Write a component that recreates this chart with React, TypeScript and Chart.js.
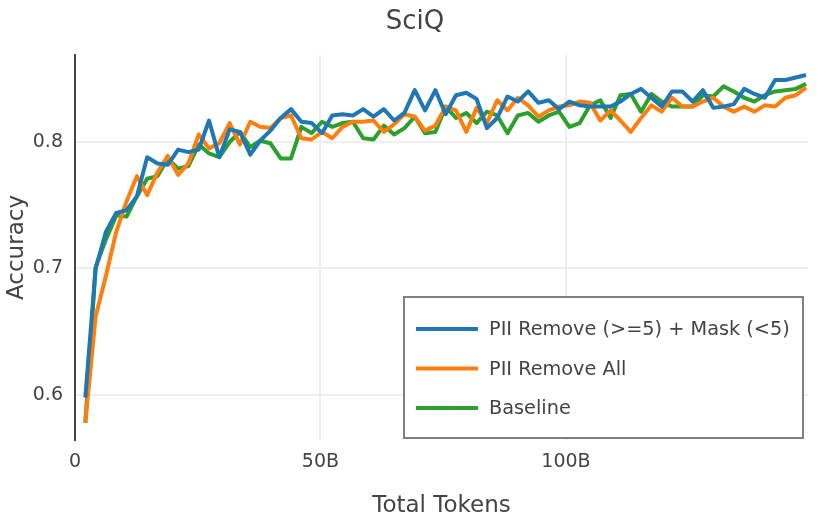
import React, { useEffect, useRef } from "react";
import { Chart, registerables } from "chart.js";

Chart.register(...registerables);

const TITLE = "SciQ";
const X_TITLE = "Total Tokens";
const Y_TITLE = "Accuracy";

// Total tokens (billions)
const tokens = [
  2.1, 4.2, 6.3, 8.4, 10.5, 12.6, 14.7, 16.8, 18.9, 21.0,
  23.1, 25.2, 27.3, 29.4, 31.5, 33.6, 35.7, 37.7, 39.8, 41.9,
  44.0, 46.1, 48.2, 50.3, 52.4, 54.5, 56.6, 58.7, 60.8, 62.9,
  65.0, 67.1, 69.2, 71.3, 73.4, 75.5, 77.6, 79.7, 81.8, 83.9,
  86.0, 88.1, 90.2, 92.3, 94.4, 96.5, 98.6, 100.7, 102.8, 104.9,
  107.0, 109.1, 111.1, 113.2, 115.3, 117.4, 119.5, 121.6, 123.7, 125.8,
  127.9, 130.0, 132.1, 134.2, 136.3, 138.4, 140.5, 142.6, 144.7, 146.8,
  148.9,
];

const removeMask = [
  0.598, 0.700, 0.729, 0.744, 0.746, 0.757, 0.788, 0.783, 0.782, 0.794,
  0.792, 0.794, 0.817, 0.788, 0.810, 0.808, 0.790, 0.801, 0.809, 0.819,
  0.826, 0.816, 0.815, 0.807, 0.821, 0.822, 0.821, 0.826, 0.820, 0.826,
  0.817, 0.823, 0.841, 0.825, 0.841, 0.822, 0.837, 0.839, 0.834, 0.811,
  0.819, 0.836, 0.832, 0.840, 0.831, 0.833, 0.826, 0.832, 0.829, 0.828,
  0.828, 0.828, 0.832, 0.838, 0.842, 0.835, 0.828, 0.840, 0.840, 0.832,
  0.841, 0.827, 0.828, 0.830, 0.842, 0.838, 0.835, 0.849, 0.849, 0.851,
  0.853,
];

const removeAll = [
  0.578, 0.662, 0.694, 0.729, 0.753, 0.773, 0.758, 0.776, 0.789, 0.774,
  0.783, 0.806, 0.795, 0.799, 0.815, 0.798, 0.816, 0.812, 0.811, 0.819,
  0.821, 0.803, 0.802, 0.808, 0.803, 0.812, 0.816, 0.816, 0.817, 0.808,
  0.814, 0.822, 0.820, 0.809, 0.813, 0.828, 0.825, 0.808, 0.827, 0.815,
  0.833, 0.825, 0.835, 0.829, 0.820, 0.825, 0.828, 0.829, 0.832, 0.831,
  0.817, 0.825, 0.817, 0.808, 0.819, 0.829, 0.824, 0.835, 0.828, 0.828,
  0.832, 0.835, 0.828, 0.824, 0.828, 0.824, 0.829, 0.828, 0.835, 0.837,
  0.843,
];

const baseline = [
  0.578, 0.701, 0.723, 0.742, 0.741, 0.757, 0.771, 0.773, 0.787, 0.779,
  0.781, 0.798, 0.791, 0.788, 0.800, 0.808, 0.796, 0.801, 0.799, 0.787,
  0.787, 0.812, 0.807, 0.816, 0.812, 0.815, 0.816, 0.803, 0.802, 0.813,
  0.806, 0.811, 0.820, 0.807, 0.808, 0.828, 0.819, 0.823, 0.815, 0.824,
  0.821, 0.807, 0.821, 0.823, 0.816, 0.821, 0.824, 0.812, 0.815, 0.829,
  0.833, 0.819, 0.837, 0.838, 0.824, 0.838, 0.832, 0.828, 0.828, 0.828,
  0.837, 0.836, 0.844, 0.840, 0.835, 0.832, 0.837, 0.840, 0.841, 0.842,
  0.846,
];

const seriesNames = ["PII Remove (>=5) + Mask (<5)", "PII Remove All", "Baseline"];
const seriesColors = ["#1f77b4", "#ff7f0e", "#2ca02c"];
const seriesValues = [removeMask, removeAll, baseline];

const yTicks = [0.6, 0.7, 0.8];
const xTicks = [0, 50, 100];

const FONT = "'DejaVu Sans', Verdana, sans-serif";
const TEXT = "#444";

const overlay = {
  id: "overlay",
  afterDraw(chart: any) {
    const ctx = chart.ctx;
    const area = chart.chartArea;
    ctx.save();
    ctx.fillStyle = TEXT;
    ctx.textAlign = "center";
    ctx.textBaseline = "middle";
    ctx.font = `26px ${FONT}`;
    ctx.fillText(TITLE, 415, 22);
    ctx.font = `23px ${FONT}`;
    ctx.fillText(X_TITLE, (area.left + area.right) / 2, 506);
    ctx.save();
    ctx.translate(17, (area.top + area.bottom) / 2);
    ctx.rotate(-Math.PI / 2);
    ctx.fillText(Y_TITLE, 0, 0);
    ctx.restore();

    // legend
    const bx = 404, by = 297, bw = 399, bh = 141;
    ctx.fillStyle = "#fff";
    ctx.fillRect(bx, by, bw, bh);
    ctx.strokeStyle = "#808080";
    ctx.lineWidth = 2;
    ctx.strokeRect(bx, by, bw, bh);
    ctx.font = `19.3px ${FONT}`;
    ctx.textAlign = "left";
    chart.data.datasets.forEach((ds: any, i: number) => {
      const y = 329 + i * 39.5;
      ctx.strokeStyle = ds.borderColor;
      ctx.lineWidth = 4;
      ctx.beginPath();
      ctx.moveTo(416, y);
      ctx.lineTo(478, y);
      ctx.stroke();
      ctx.fillStyle = TEXT;
      ctx.fillText(ds.label, 489, y + 1);
    });
    ctx.restore();
  },
};

export default function App() {
  const ref = useRef<HTMLCanvasElement>(null);
  useEffect(() => {
    if (!ref.current) return;
    const chart = new Chart(ref.current, {
      type: "line",
      data: {
        datasets: seriesValues.map((vals, i) => ({
          label: seriesNames[i],
          data: tokens.map((x, j) => ({ x, y: vals[j] })),
          borderColor: seriesColors[i],
          backgroundColor: seriesColors[i],
          borderWidth: 4,
          pointRadius: 0,
          tension: 0,
          borderJoinStyle: "round" as const,
        })),
      },
      options: {
        responsive: false,
        animation: false,
        devicePixelRatio: 1,
        layout: { padding: { top: 55, right: 22, left: 0, bottom: 0 } },
        plugins: {
          legend: { display: false },
          title: { display: false },
          tooltip: { enabled: false },
        },
        scales: {
          x: {
            type: "linear",
            min: 0,
            max: 149.3,
            afterBuildTicks: (s: any) => {
              s.ticks = xTicks.map((v) => ({ value: v }));
            },
            afterFit: (s: any) => {
              s.height = 80;
            },
            ticks: {
              callback: (v: any) => (v === 0 ? "0" : `${v}B`),
              font: { family: FONT, size: 19 },
              color: TEXT,
              padding: 11,
              maxRotation: 0,
            },
            grid: {
              color: "#eeeeee",
              lineWidth: (c: any) => (c.tick && c.tick.value === 0 ? 0 : 2),
              drawTicks: false,
            },
            border: { display: false },
          },
          y: {
            type: "linear",
            min: 0.5644,
            max: 0.8688,
            afterBuildTicks: (s: any) => {
              s.ticks = yTicks.map((v) => ({ value: v }));
            },
            afterFit: (s: any) => {
              s.width = 75;
            },
            ticks: {
              callback: (v: any) => Number(v).toFixed(1),
              font: { family: FONT, size: 19 },
              color: TEXT,
              padding: 12,
            },
            grid: { color: "#eeeeee", lineWidth: 2, drawTicks: false },
            border: { display: true, color: "#444", width: 2 },
          },
        },
      },
      plugins: [overlay],
    });
    return () => chart.destroy();
  }, []);
  return (
    <div style={{ position: "fixed", left: 0, top: 0, width: 830, height: 520, background: "#fff" }}>
      <canvas ref={ref} width={830} height={520} />
    </div>
  );
}
